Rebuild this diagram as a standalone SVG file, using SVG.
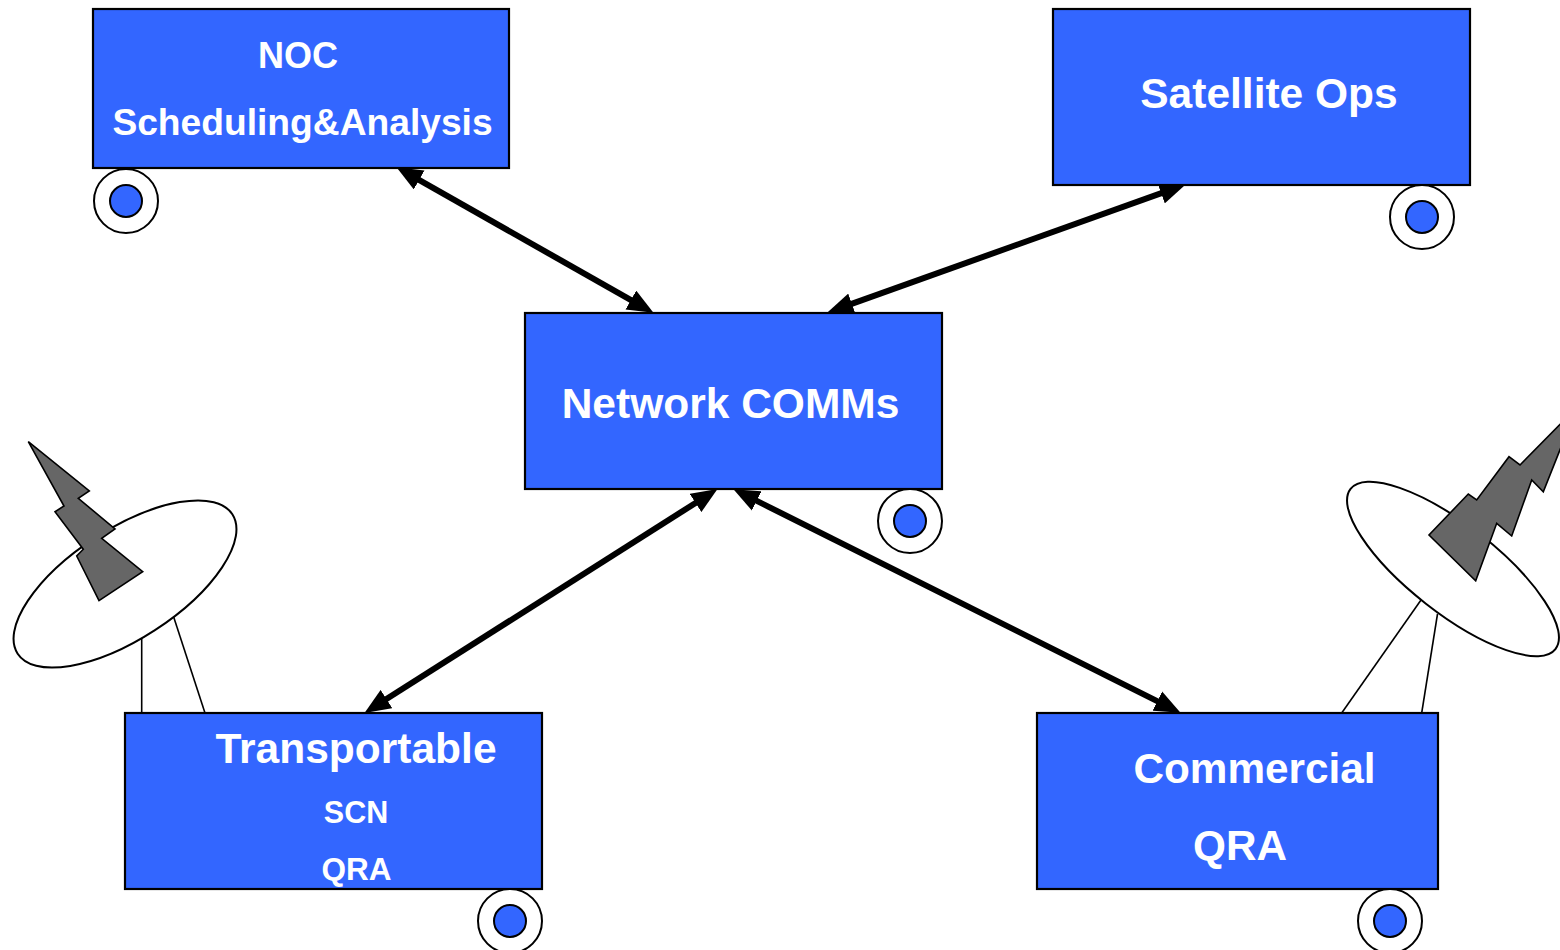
<svg xmlns="http://www.w3.org/2000/svg" width="1560" height="950" viewBox="0 0 1560 950">
<style>
.box{fill:#3366FF;stroke:#000;stroke-width:2.2}
.lbl{font-family:"Liberation Sans",Arial,sans-serif;font-weight:bold;fill:#fff;text-anchor:middle}
.wo{fill:#fff;stroke:#000;stroke-width:2}
.wi{fill:#3366FF;stroke:#000;stroke-width:2}
.conn{stroke:#000;stroke-width:6;fill:none;marker-start:url(#ah);marker-end:url(#ah)}
.strut{stroke:#000;stroke-width:1.6}
.dish{fill:#fff;stroke:#000;stroke-width:2}
.bolt{fill:#666;stroke:#000;stroke-width:1.6;stroke-linejoin:miter}
</style>
<defs>
<marker id="ah" markerUnits="userSpaceOnUse" markerWidth="26" markerHeight="22" viewBox="0 0 24 20" refX="3" refY="10" orient="auto-start-reverse">
<path d="M0,0 L24,10 L0,20 z" fill="#000"/>
</marker>
</defs>
<rect width="1560" height="950" fill="#fff"/>

<g id="antenna-left">
<line class="strut" x1="141.7" y1="630" x2="141.7" y2="713"/>
<line class="strut" x1="172.7" y1="614" x2="205" y2="713"/>
<ellipse class="dish" cx="125" cy="584" rx="128" ry="55" transform="rotate(-33 125 584)"/>
<polygon class="bolt" points="28.3,441.7 89.3,491 78.3,498.3 115,529 101.7,538.3 142.7,571.7 99,600.7 76.7,556 83.3,549.3 55,511.7 64,506"/>
</g>

<g id="antenna-right">
<line class="strut" x1="1421" y1="600" x2="1341.7" y2="713"/>
<line class="strut" x1="1437.5" y1="614" x2="1421.7" y2="713"/>
<ellipse class="dish" cx="1453" cy="569" rx="130" ry="44" transform="rotate(38 1453 569)"/>
<polygon class="bolt" points="1577,407 1520,465 1509,456.7 1476.7,500 1468.3,494 1429,535 1475.7,580.7 1496.7,523.3 1511.7,536 1531.7,480 1543.3,491.7"/>
</g>

<g id="connectors">
<line class="conn" x1="416.3" y1="178.4" x2="633.7" y2="301.6"/>
<line class="conn" x1="1164.2" y1="192.1" x2="848.8" y2="304.9"/>
<line class="conn" x1="698.3" y1="501.2" x2="383.7" y2="700.8"/>
<line class="conn" x1="753.8" y1="499.4" x2="1160.2" y2="702.6"/>
</g>

<g id="noc">
<rect class="box" x="93" y="9" width="416" height="159"/>
<text class="lbl" x="298" y="68" font-size="36">NOC</text>
<text class="lbl" x="302.5" y="135" font-size="37.2">Scheduling&amp;Analysis</text>
<circle class="wo" cx="126" cy="201" r="32"/>
<circle class="wi" cx="126" cy="201" r="16"/>
</g>

<g id="satellite-ops">
<rect class="box" x="1053" y="9" width="417" height="176"/>
<text class="lbl" x="1269" y="108" font-size="42.5">Satellite Ops</text>
<circle class="wo" cx="1422" cy="217" r="32"/>
<circle class="wi" cx="1422" cy="217" r="16"/>
</g>

<g id="network-comms">
<rect class="box" x="525" y="313" width="417" height="176"/>
<text class="lbl" x="730.5" y="418" font-size="42.5">Network COMMs</text>
<circle class="wo" cx="910" cy="521" r="32"/>
<circle class="wi" cx="910" cy="521" r="16"/>
</g>

<g id="transportable">
<rect class="box" x="125" y="713" width="417" height="176"/>
<text class="lbl" x="356" y="763" font-size="42.5">Transportable</text>
<text class="lbl" x="356" y="823" font-size="30.5">SCN</text>
<text class="lbl" x="356.5" y="880" font-size="31.5">QRA</text>
<circle class="wo" cx="510" cy="921" r="32"/>
<circle class="wi" cx="510" cy="921" r="16"/>
</g>

<g id="commercial">
<rect class="box" x="1037" y="713" width="401" height="176"/>
<text class="lbl" x="1254.5" y="783" font-size="42.3">Commercial</text>
<text class="lbl" x="1240" y="860" font-size="42.3">QRA</text>
<circle class="wo" cx="1390" cy="921" r="32"/>
<circle class="wi" cx="1390" cy="921" r="16"/>
</g>
</svg>
